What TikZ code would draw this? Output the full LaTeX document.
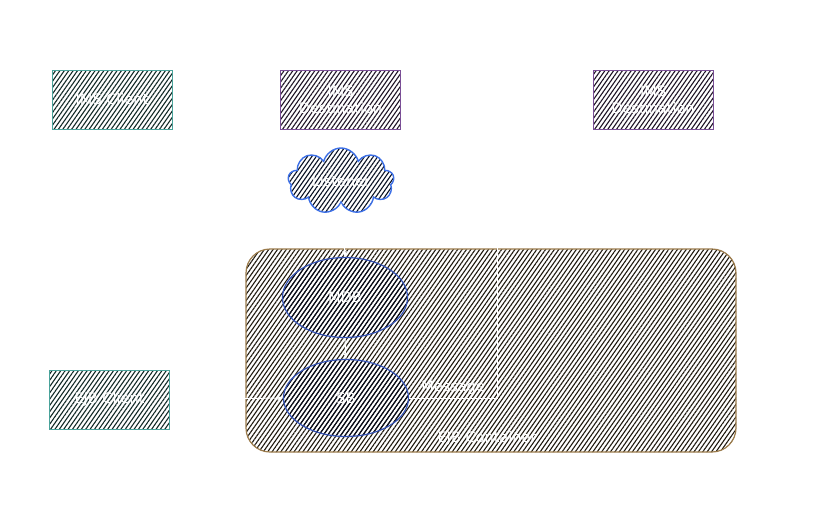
\documentclass[tikz,border=0pt]{standalone}
\usepackage{fontspec}
\setmainfont{DejaVu Sans}
\usetikzlibrary{patterns.meta,shapes.symbols,shapes.geometric,arrows.meta}
\definecolor{clientteal}{HTML}{4AA39B}
\definecolor{destpurple}{HTML}{7A4E96}
\definecolor{listenblue}{HTML}{3C6FE6}
\definecolor{beanblue}{HTML}{3452B4}
\definecolor{ejbbrown}{HTML}{9C7C4C}
\tikzset{
	hatch/.style={pattern={Lines[angle=55,distance=3.6pt,line width=1.1pt]}, pattern color=#1},
	label/.style={text=white, font=\fontsize{14.5}{17}\selectfont, align=center},
	box/.style={draw=#1, line width=1pt, rectangle, minimum width=120pt, minimum height=59pt, label},
	bean/.style={draw=beanblue, line width=1.2pt, ellipse, inner sep=0pt, minimum width=125pt, minimum height=80pt, hatch=beanblue!15!black, label},
	wire/.style={draw=white, line width=1pt, -{Stealth[length=6pt]}}
}
\begin{document}
\begin{tikzpicture}[x = 1pt, y = -1pt]
	\useasboundingbox[fill=white] (0,0) rectangle (827,514);

	% top row
	\node[box=clientteal, hatch=clientteal!25!black] (jmsclient) at (112,100) {JMS Client};
	\node[box=destpurple, hatch=destpurple!25!black] (destone) at (340.5,99.5) {JMS\\Destination};
	\node[box=destpurple, hatch=destpurple!25!black] (desttwo) at (653,99.5) {JMS\\Destination};

	\node[cloud, cloud puffs=9, aspect=1.8, draw=listenblue, line width=1.4pt,
		minimum width=106pt, minimum height=66pt, inner sep=0pt,
		hatch=listenblue!15!black, label] (listener) at (341,181) {Listener};

	% container
	\draw[draw=ejbbrown, line width=1.2pt, rounded corners=24pt, hatch=ejbbrown!20!black]
		(246,249) rectangle (736,452);
	\node[label] (container) at (487,438) {EJB Container};

	\node[bean] (mdb) at (345,297.5) {MDB};
	\node[bean, minimum height=77pt] (sb) at (346,398) {SB};

	\node[box=clientteal, hatch=clientteal!25!black] (ejbclient) at (109.5,399.5) {EJB Client};

	% connectors
	\draw[wire] (listener.south) -- (mdb.north);
	\draw[wire] (mdb.south) -- (sb.north);
	\draw[wire] (ejbclient.east) -- (sb.west);
	\draw[wire] (sb.east) -- (497,398) node[label, midway, above] (message) {Message} |- (desttwo.west);

\end{tikzpicture}
\end{document}
